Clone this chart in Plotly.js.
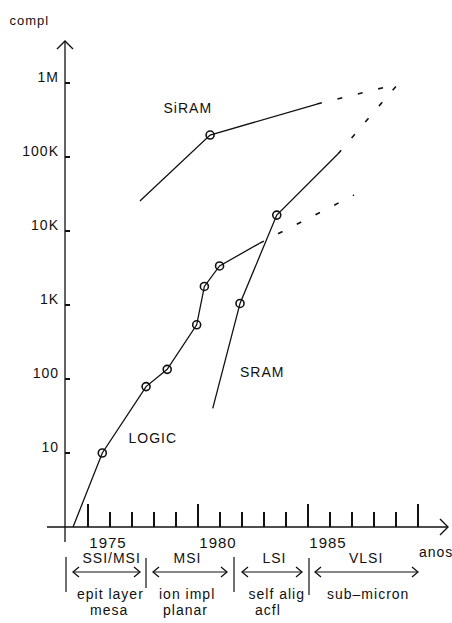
<!DOCTYPE html>
<html>
<head>
<meta charset="utf-8">
<script src="https://cdn.plot.ly/plotly-3.0.1.min.js"></script>
<style>
html,body{margin:0;padding:0;background:#fff;}
#chart{width:452px;height:623px;}
.main-svg text{letter-spacing:1px;}
</style>
</head>
<body>
<div id="chart"></div>
<script>
// ---- data ----
const logicYear = [1974.32, 1975.65, 1977.64, 1978.60, 1979.94, 1980.29, 1980.98, 1982.79];
const logicVal  = [1, 10, 79, 135, 540, 1780, 3370, 6800];
const logicProjYear = [1982.79, 1987.09];
const logicProjVal  = [6800, 30600];

const sramYear = [1980.67, 1981.91, 1983.58, 1986.36];
const sramVal  = [40, 1050, 16400, 110000];
const sramProjYear = [1986.36, 1989.09];
const sramProjVal  = [110000, 970000];

const siramYear = [1977.36, 1980.55, 1985.41];
const siramVal  = [25400, 198000, 520000];
const siramProjYear = [1985.41, 1989.09];
const siramProjVal  = [520000, 970000];

const yTickVals = [10, 100, 1000, 10000, 100000, 1000000];
const yTickText = ['10', '100', '1K', '10K', '100K', '1M'];
const xTickVals = [1975, 1980, 1985, 1990];
const xTickText = ['1975', '1980', '1985', ''];
const xMinorVals = [1976,1977,1978,1979,1981,1982,1983,1984,1986,1987,1988,1989];

const eraNames = ['SSI/MSI', 'MSI', 'LSI', 'VLSI'];
const eraTech1 = ['epit layer', 'ion impl', 'self alig', 'sub\u2013micron'];
const eraTech2 = ['mesa', 'planar', 'acfl', ''];

// ---- pixel helpers for decorations (plot area: x 65..452, y 0..527) ----
const PX = x => (x - 65) / 387;
const PY = y => (527 - y) / 527;
const INK = '#111';

const lineStyle = {color: INK, width: 1.3};
const dashStyle = {color: INK, width: 1.6, dash: '5px,16px'};
const circ = {symbol: 'circle-open', size: 8, color: INK, line: {width: 1.6, color: INK}};

const traces = [
  {x: logicYear, y: logicVal, mode: 'lines', line: lineStyle, cliponaxis: false},
  {x: logicProjYear, y: logicProjVal, mode: 'lines', line: dashStyle, cliponaxis: false},
  {x: logicYear.slice(1, 7), y: logicVal.slice(1, 7), mode: 'markers', marker: circ, cliponaxis: false},
  {x: sramYear, y: sramVal, mode: 'lines', line: lineStyle, cliponaxis: false},
  {x: sramProjYear, y: sramProjVal, mode: 'lines', line: dashStyle, cliponaxis: false},
  {x: sramYear.slice(1, 3), y: sramVal.slice(1, 3), mode: 'markers', marker: circ, cliponaxis: false},
  {x: siramYear, y: siramVal, mode: 'lines', line: lineStyle, cliponaxis: false},
  {x: siramProjYear, y: siramProjVal, mode: 'lines', line: dashStyle, cliponaxis: false},
  {x: siramYear.slice(1, 2), y: siramVal.slice(1, 2), mode: 'markers', marker: circ, cliponaxis: false}
];

function seg(x0, y0, x1, y1, w) {
  return {type: 'line', xref: 'paper', yref: 'paper', x0: PX(x0), y0: PY(y0), x1: PX(x1), y1: PY(y1),
          line: {color: INK, width: w || 1.2}};
}
function path(pts, w) {
  const d = pts.map((p, i) => (i ? 'L' : 'M') + PX(p[0]) + ',' + PY(p[1])).join(' ');
  return {type: 'path', xref: 'paper', yref: 'paper', path: d, line: {color: INK, width: w || 1.2}};
}
function dblArrow(xa, xb, y) {
  return [seg(xa, y, xb, y, 1.1),
          path([[xa + 6, y - 5], [xa, y], [xa + 6, y + 5]], 1.3),
          path([[xb - 6, y - 5], [xb, y], [xb - 6, y + 5]], 1.3)];
}

const shapes = [
  seg(65, 542, 65, 41, 1.3),                 // y axis
  seg(47, 527, 447, 527, 1.3),               // x axis
  path([[57, 49], [65, 41], [73, 49]], 1.4), // y arrow
  path([[440, 519], [448, 527], [440, 535]], 1.4), // x arrow
  seg(66, 557, 66, 592), seg(146, 558, 146, 588), seg(234, 557, 234, 592), seg(309, 558, 309, 595),
  ...dblArrow(73, 140, 572), ...dblArrow(153, 227, 572), ...dblArrow(242, 302, 572), ...dblArrow(315, 418, 572)
];

const FONT = 'Liberation Sans, Arial, sans-serif';
function txt(t, x, y, size, anchor) {
  return {text: t, xref: 'paper', yref: 'paper', x: PX(x), y: PY(y), showarrow: false,
          xanchor: anchor || 'center', yanchor: 'middle', font: {family: FONT, size: size || 14, color: INK}};
}
const eraX1 = [111, 187, 274, 366];
const eraX2 = [110, 187, 276, 368];
const eraX3 = [109, 185, 268, 368];
const annotations = [
  txt('compl', 29, 21, 13),
  txt('SiRAM', 188, 108, 14),
  txt('SRAM', 262, 372, 14),
  txt('LOGIC', 153, 438, 14),
  txt('anos', 419, 552, 14, 'left')
];
eraNames.forEach((t, i) => annotations.push(txt(t, eraX1[i], 558, 14)));
eraTech1.forEach((t, i) => annotations.push(txt(t, eraX2[i], 594, 14)));
eraTech2.forEach((t, i) => { if (t) annotations.push(txt(t, eraX3[i], 610, 14)); });

const layout = {
  width: 452, height: 623,
  margin: {l: 65, r: 0, t: 0, b: 96, pad: 0},
  paper_bgcolor: '#fff', plot_bgcolor: '#fff',
  showlegend: false,
  font: {family: FONT, color: INK},
  xaxis: {
    range: [1973.9545, 1991.5455], showgrid: false, zeroline: false, showline: false,
    tickmode: 'array', tickvals: xTickVals, ticktext: xTickText,
    ticks: 'inside', ticklen: 23, tickwidth: 1.3, tickcolor: INK,
    tickfont: {family: FONT, size: 15, color: INK},
    ticklabelshift: 20, ticklabelstandoff: 5,
    minor: {tickmode: 'array', tickvals: xMinorVals, ticks: 'inside', ticklen: 15, tickwidth: 1.2, tickcolor: INK, showgrid: false},
    fixedrange: true
  },
  yaxis: {
    type: 'log', range: [0, 7.1216], showgrid: false, zeroline: false, showline: false,
    tickmode: 'array', tickvals: yTickVals, ticktext: yTickText,
    ticks: 'inside', ticklen: 5, tickwidth: 1.3, tickcolor: INK,
    tickfont: {family: FONT, size: 14, color: INK},
    ticklabelshift: -6, ticklabelstandoff: 5,
    fixedrange: true
  },
  shapes: shapes,
  annotations: annotations
};

Plotly.newPlot('chart', traces, layout, {displayModeBar: false, staticPlot: true});
</script>
</body>
</html>
